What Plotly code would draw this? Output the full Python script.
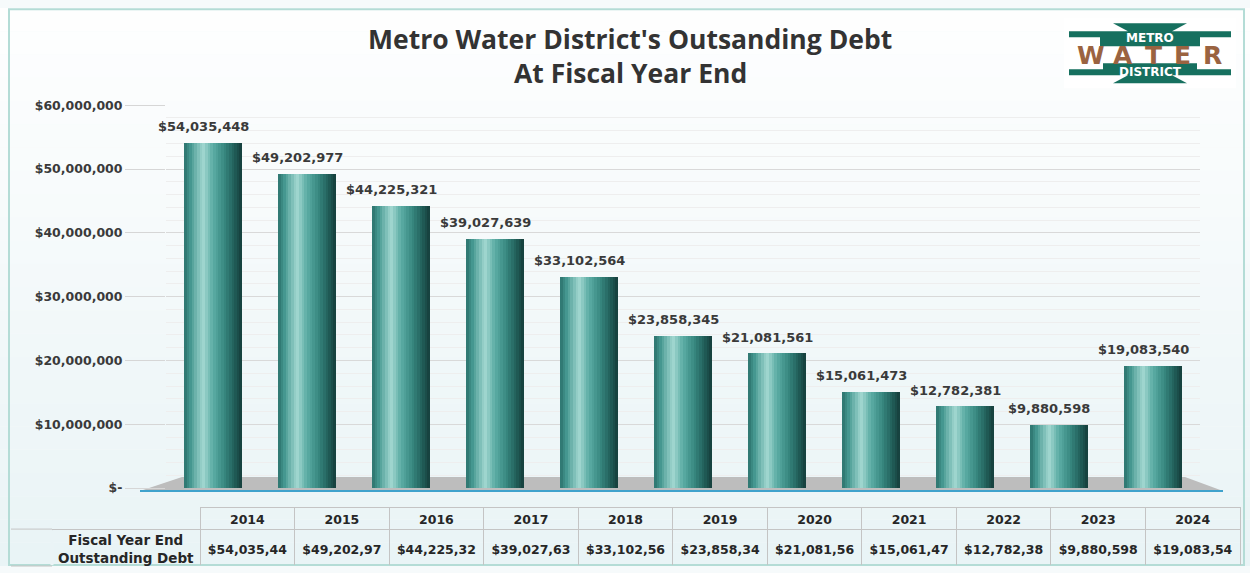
import plotly.graph_objects as go

# ---------------- data ----------------
years = ['2014', '2015', '2016', '2017', '2018', '2019', '2020', '2021', '2022', '2023', '2024']
debt = [54035448, 49202977, 44225321, 39027639, 33102564, 23858345,
        21081561, 15061473, 12782381, 9880598, 19083540]
y_tickvals = [0, 10000000, 20000000, 30000000, 40000000, 50000000, 60000000]
y_ticktext = ['$-', '$10,000,000', '$20,000,000', '$30,000,000',
              '$40,000,000', '$50,000,000', '$60,000,000']
bar_labels = [f"${v:,}" for v in debt]
table_values = [f"${v:,}"[:10] for v in debt]   # truncated as in the source table
row_header = 'Fiscal Year End<br>Outstanding Debt'
title_lines = ["Metro Water District's Outsanding Debt", "At Fiscal Year End"]

W, H = 1250, 573
# the photographed page is slightly compressed vertically; map target pixel rows to paper
SY, OY = 0.974, 7.8


def px(x):
    return x / W


def py(y):
    v = 1 - ((y - OY) / SY) / H
    return min(1.0, max(0.0, v))


def hp(h):
    return h / SY


def hex2rgb(h):
    h = h.lstrip('#')
    return tuple(int(h[i:i + 2], 16) for i in (0, 2, 4))


def lerp_color(stops, t):
    for (t0, c0), (t1, c1) in zip(stops, stops[1:]):
        if t0 <= t <= t1:
            a = (t - t0) / (t1 - t0) if t1 > t0 else 0
            r0, g0, b0 = hex2rgb(c0)
            r1, g1, b1 = hex2rgb(c1)
            return 'rgb(%d,%d,%d)' % (r0 + (r1 - r0) * a, g0 + (g1 - g0) * a, b0 + (b1 - b0) * a)
    return stops[-1][1]


shade_stops = [(0.0, '#2c736d'), (0.12, '#479a92'), (0.33, '#a3d8d1'),
               (0.5, '#5cada5'), (0.7, '#37877f'), (0.88, '#205b56'), (1.0, '#163e3b')]

fig = go.Figure()

# cylinder-like bars: overlaid vertical strips of the same bars
BAR_W = 0.62
N = 22
sw = BAR_W / N
for i in range(N):
    t = (i + 0.5) / N
    fig.add_trace(go.Bar(
        x=years, y=debt,
        width=sw * 1.3 if i < N - 1 else sw,
        offset=-BAR_W / 2 + i * sw,
        marker=dict(color=lerp_color(shade_stops, t), line=dict(width=0)),
        hoverinfo='skip', showlegend=False,
    ))

# data labels (x given as category index)
for i, (v, lab) in enumerate(zip(debt, bar_labels)):
    fig.add_annotation(x=i, y=v, text=lab, showarrow=False, xref='x', yref='y',
                       xanchor='center', yanchor='bottom', yshift=7, xshift=-10,
                       font=dict(family='DejaVu Sans', size=13, color='#3a3a3a', weight='bold'))

# data table: grid and years
col_w = [148] + [94.5] * 11
tbl_font = dict(family='DejaVu Sans', size=12.5, color='#262626', weight='bold')
fig.add_trace(go.Table(
    domain=dict(x=[px(52), px(1240)], y=[py(566), py(507)]),
    columnwidth=col_w,
    header=dict(values=[''] + years,
                height=hp(22),
                fill=dict(color='rgba(0,0,0,0)'),
                line=dict(color=['rgba(0,0,0,0)'] + ['#c4c4c4'] * 11, width=1),
                align='center', font=tbl_font),
    cells=dict(values=[[''] for _ in range(12)],
               height=hp(38),
               fill=dict(color='rgba(0,0,0,0)'),
               line=dict(color='#c4c4c4', width=1),
               align='center', font=tbl_font),
))
# values row, overlaid so the text sits in the middle of the row
fig.add_trace(go.Table(
    domain=dict(x=[px(52), px(1240)], y=[py(566), py(537)]),
    columnwidth=col_w,
    header=dict(values=[''] + table_values,
                height=hp(26),
                fill=dict(color='rgba(0,0,0,0)'),
                line=dict(color='rgba(0,0,0,0)', width=0),
                align='center', font=tbl_font),
    cells=dict(values=[[] for _ in range(12)],
               fill=dict(color='rgba(0,0,0,0)'),
               line=dict(color='rgba(0,0,0,0)', width=0)),
))
# row header label
fig.add_annotation(text=row_header, x=px(126), y=py(548.5), xref='paper', yref='paper',
                   showarrow=False, xanchor='center', yanchor='middle', align='center',
                   font=dict(family='DejaVu Sans', size=13.5, color='#262626', weight='bold'))

shapes = []
# background vertical gradient bands
top_c, bot_c = '#ffffff', '#e9f4f6'
nb = 24
for i in range(nb):
    shapes.append(dict(type='rect', xref='paper', yref='paper', layer='below',
                       x0=0, x1=1, y0=1 - (i + 1) / nb, y1=1 - i / nb,
                       fillcolor=lerp_color([(0, top_c), (1, bot_c)], (i + 0.5) / nb),
                       line=dict(width=0)))
# outer border
shapes.append(dict(type='rect', xref='paper', yref='paper', layer='below',
                   x0=px(9), x1=px(1244), y0=0.002, y1=py(9),
                   line=dict(color='#b4dcd6', width=2), fillcolor='rgba(0,0,0,0)'))
# floor
shapes.append(dict(type='path', xref='paper', yref='paper', layer='between',
                   path=f"M {px(140)} {py(491)} L {px(182)} {py(477)} L {px(1185)} {py(477)} L {px(1223)} {py(491)} Z",
                   fillcolor='#bdbdbd', line=dict(width=0)))
shapes.append(dict(type='line', xref='paper', yref='paper', layer='above',
                   x0=px(140), x1=px(1223), y0=py(491), y1=py(491),
                   line=dict(color='#3fa2cc', width=2)))
# table row lines extending to the chart border; hide the left edge of the row-header cell
for yy in (529, 566):
    shapes.append(dict(type='line', xref='paper', yref='paper',
                       x0=px(11), x1=px(52), y0=py(yy), y1=py(yy),
                       line=dict(color='#c4c4c4', width=1)))
shapes.append(dict(type='line', xref='paper', yref='paper', layer='above',
                   x0=px(52), x1=px(52), y0=py(565), y1=py(530),
                   line=dict(color='#eaf4f6', width=3)))

# logo
teal = '#16705f'
brown = '#9a6341'


def poly(pts):
    return 'M ' + ' L '.join(f"{px(a)} {py(b)}" for a, b in pts) + ' Z'


shapes.append(dict(type='rect', xref='paper', yref='paper', layer='below',
                   x0=px(1064), x1=px(1236), y0=py(88), y1=py(18),
                   fillcolor='#ffffff', line=dict(width=0)))
shapes.append(dict(type='path', xref='paper', yref='paper', layer='above',
                   path=poly([(1113, 23), (1187, 23), (1172, 31), (1231, 31), (1231, 37),
                              (1200, 37), (1200, 46), (1100, 46), (1100, 37), (1069, 37),
                              (1069, 31), (1128, 31)]),
                   fillcolor=teal, line=dict(width=0)))
shapes.append(dict(type='path', xref='paper', yref='paper', layer='above',
                   path=poly([(1103, 63), (1197, 63), (1197, 69), (1231, 69), (1231, 75),
                              (1172, 75), (1187, 83), (1113, 83), (1128, 75), (1069, 75),
                              (1069, 69), (1103, 69)]),
                   fillcolor=teal, line=dict(width=0)))

logo_font = dict(family='DejaVu Sans', color='white', weight='bold')
fig.add_annotation(text='METRO', x=px(1150), y=py(38), xref='paper', yref='paper',
                   showarrow=False, xanchor='center', yanchor='middle',
                   font=dict(size=12, **logo_font))
fig.add_annotation(text='DISTRICT', x=px(1150), y=py(71.5), xref='paper', yref='paper',
                   showarrow=False, xanchor='center', yanchor='middle',
                   font=dict(size=12, **logo_font))
for ch, cx in zip('WATER', [1091, 1123, 1153, 1182, 1212]):
    fig.add_annotation(text=ch, x=px(cx), y=py(55), xref='paper', yref='paper',
                       showarrow=False, xanchor='center', yanchor='middle',
                       font=dict(family='DejaVu Sans', size=25, color=brown, weight='bold'))

# title (two lines)
for line, yc in zip(title_lines, (39, 72.5)):
    fig.add_annotation(text=line, x=px(630), y=py(yc), xref='paper', yref='paper',
                       showarrow=False, xanchor='center', yanchor='middle',
                       font=dict(family='Open Sans', size=26.5, color='#333333', weight='bold'))

fig.update_layout(
    width=W, height=H,
    margin=dict(l=0, r=0, t=0, b=0),
    barmode='overlay',
    bargap=0,
    paper_bgcolor='#f6fafb',
    plot_bgcolor='rgba(0,0,0,0)',
    shapes=shapes,
    showlegend=False,
    xaxis=dict(domain=[px(166), px(1200)], type='category', range=[-0.5, 10.5],
               showticklabels=False, showgrid=False, zeroline=False, showline=False, ticks=''),
    yaxis=dict(domain=[py(488), py(105)], range=[0, 60000000],
               tickvals=y_tickvals, ticktext=y_ticktext,
               ticks='outside', ticklen=40, tickcolor='#d6d6d6', tickwidth=1,
               tickfont=dict(family='DejaVu Sans', size=12.5, color='#3a3a3a', weight='bold'),
               showgrid=True, gridcolor='#d9d9d9', gridwidth=1,
               minor=dict(dtick=2000000, showgrid=True, gridcolor='#eeeeee', gridwidth=1),
               zeroline=False, showline=False),
)

fig.write_html('out.html')
